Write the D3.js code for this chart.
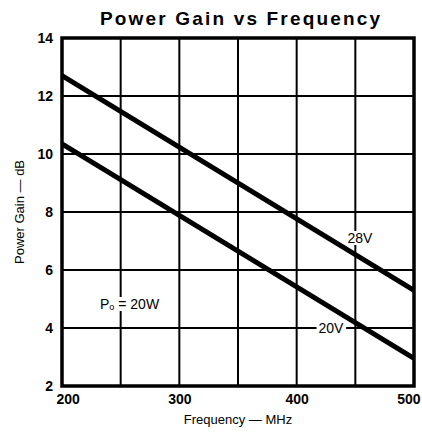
<!DOCTYPE html>
<html><head><meta charset="utf-8">
<script src="https://cdn.jsdelivr.net/npm/d3@7/dist/d3.min.js"></script>
<style>
body{margin:0;background:#fff;}
svg{display:block;}
text{font-family:"Liberation Sans",Arial,sans-serif;fill:#000;}
</style></head><body>
<script>
const freqs = [200, 500];
const gain28V = [12.7, 5.3];
const gain20V = [10.35, 2.95];
const xTicks = [200, 300, 400, 500];
const xGrid = [200, 250, 300, 350, 400, 450, 500];
const yTicks = [2, 4, 6, 8, 10, 12, 14];

const W = 422, H = 434;
const m = {l: 62, r: 8, t: 38, b: 48};
const svg = d3.select("body").append("svg").attr("width", W).attr("height", H);
const x = d3.scaleLinear().domain([200, 500]).range([m.l, W - m.r]);
const y = d3.scaleLinear().domain([2, 14]).range([H - m.b, m.t]);

// grid
svg.append("g").selectAll("line").data(xGrid).join("line")
  .attr("x1", d => x(d)).attr("x2", d => x(d)).attr("y1", y(2)).attr("y2", y(14))
  .attr("stroke", "#000").attr("stroke-width", 2);
svg.append("g").selectAll("line").data(yTicks).join("line")
  .attr("x1", x(200)).attr("x2", x(500)).attr("y1", d => y(d)).attr("y2", d => y(d))
  .attr("stroke", "#000").attr("stroke-width", 2);

// series
const series = [{name: "28V", v: gain28V}, {name: "20V", v: gain20V}];
const line = d3.line().x((d, i) => x(freqs[i])).y(d => y(d));
svg.append("g").selectAll("path").data(series).join("path")
  .attr("d", d => line(d.v)).attr("fill", "none").attr("stroke", "#000").attr("stroke-width", 5);

// frame
svg.append("rect").attr("x", x(200)).attr("y", y(14)).attr("width", x(500) - x(200)).attr("height", y(2) - y(14))
  .attr("fill", "none").attr("stroke", "#000").attr("stroke-width", 3.5);

// axes
const xAxis = d3.axisBottom(x).tickValues(xTicks).tickSize(0).tickPadding(8);
const gx = svg.append("g").attr("transform", `translate(0,${y(2)})`).call(xAxis);
gx.select(".domain").remove();
gx.selectAll("text").attr("font-size", 14).attr("font-weight", "bold")
  .style("font-family", '"Liberation Sans",Arial,sans-serif')
  .attr("text-anchor", d => d === 200 ? "start" : d === 500 ? "end" : "middle")
  .attr("dx", d => d === 200 ? -6 : d === 500 ? 6 : 0);
const yAxis = d3.axisLeft(y).tickValues(yTicks).tickSize(0).tickPadding(9);
const gy = svg.append("g").attr("transform", `translate(${x(200)},0)`).call(yAxis);
gy.select(".domain").remove();
gy.selectAll("text").attr("font-size", 14).attr("font-weight", "bold")
  .style("font-family", '"Liberation Sans",Arial,sans-serif');

// title
svg.append("text").attr("x", 240).attr("y", 25).attr("text-anchor", "middle")
  .attr("font-size", 19).attr("font-weight", "bold")
  .attr("textLength", 280).attr("lengthAdjust", "spacing")
  .text("Power Gain vs Frequency");

// axis titles
svg.append("text").attr("x", 238).attr("y", 424).attr("text-anchor", "middle")
  .attr("font-size", 13).text("Frequency — MHz");
svg.append("text").attr("transform", "translate(24,212) rotate(-90)").attr("text-anchor", "middle")
  .attr("font-size", 13).text("Power Gain — dB");

// labels
function boxedLabel(tx, ty, txt) {
  const g = svg.append("g");
  const t = g.append("text").attr("x", tx).attr("y", ty).attr("text-anchor", "middle")
    .attr("font-size", 14).text(txt);
  const b = t.node().getBBox();
  g.insert("rect", "text").attr("x", b.x - 2).attr("y", b.y + 1).attr("width", b.width + 4).attr("height", b.height - 2).attr("fill", "#fff");
  return t;
}
boxedLabel(360, 243, "28V");
boxedLabel(331, 333, "20V");
// Po = 20W
const pg = svg.append("g");
const pt = pg.append("text").attr("x", 100).attr("y", 309).attr("font-size", 14);
pt.append("tspan").text("P");
pt.append("tspan").attr("font-size", 9).attr("dy", 1).text("o");
pt.append("tspan").attr("dy", -1).text(" = 20W");
const pb = pt.node().getBBox();
pg.insert("rect", "text").attr("x", pb.x - 1).attr("y", pb.y + 1).attr("width", pb.width + 2).attr("height", pb.height - 2).attr("fill", "#fff");
</script>
</body></html>
